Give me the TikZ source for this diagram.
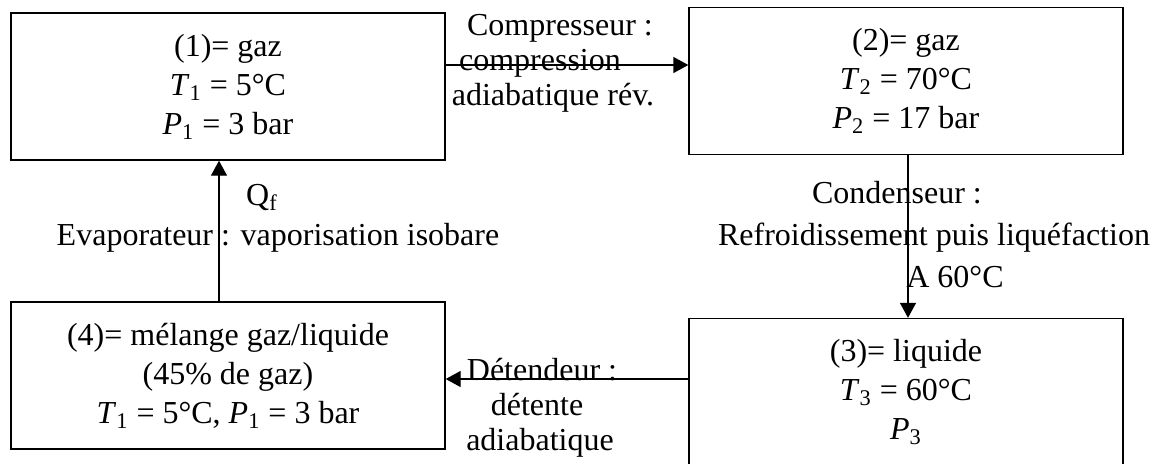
\documentclass[tikz,border=0pt]{standalone}
\usepackage{fontspec}
\setmainfont{Liberation Serif}
\usetikzlibrary{arrows.meta}

\tikzstyle{box} = [draw,line width=0.7pt,rectangle,minimum width=217pt,minimum height=73.5pt,align=center,inner sep=0pt,font=\fontsize{16}{19.5}\selectfont]
\tikzstyle{legend} = [anchor=base,inner sep=0pt,font=\fontsize{16}{19}\selectfont]
\tikzstyle{arrowdecorate} = [-{Triangle[length=7.5pt,width=8pt]},line width=0.7pt]

\newcommand{\ind}[2]{\textit{#1}\textsubscript{#2}}

\begin{document}
\begin{tikzpicture}[x=0.5pt,y=-0.5pt]
    \useasboundingbox (0,0) rectangle (1158,463);

    % states of the fluid
    \foreach \nodename/\x/\y/\content in {
      e1/228/86.5/{(1)= gaz\\\ind{T}{1} = 5°C\\\ind{P}{1} = 3 bar},
      e2/906/81/{(2)= gaz\\\ind{T}{2} = 70°C\\\ind{P}{2} = 17 bar},
      e3/906/392/{(3)= liquide\\\ind{T}{3} = 60°C\\\ind{P}{3}},
      e4/228/375.5/{(4)= mélange gaz/liquide\\(45\% de gaz)\\\ind{T}{1} = 5°C, \ind{P}{1} = 3 bar}}
    {
      \node[box] (\nodename) at (\x,\y) {\content};
    }

    %edges or lines
    \draw[arrowdecorate] (e1.east |- 0,65) -- (e2.west |- 0,65);
    \draw[arrowdecorate] (e2.south -| 908,0) -- (e3.north -| 908,0);
    \draw[arrowdecorate] (e3.west |- 0,379) -- (e4.east |- 0,379);
    \draw[arrowdecorate] (e4.north -| 219,0) -- (e1.south -| 219,0);

    % transformations
    \foreach \labelname/\x/\y/\txt in {
      cp1/560/35/{Compresseur :}, cp2/540/70/{compression}, cp3/553/105/{adiabatique rév.},
      cd1/897/203/{Condenseur :}, cd2/934/245/{Refroidissement puis liquéfaction}, cd3/955/287/{A 60°C},
      ev1/262/205/{Q\textsubscript{f}}, ev2/278/245/{Evaporateur : vaporisation isobare},
      dt1/542/380/{Détendeur :}, dt2/537/415/{détente}, dt3/540/450/{adiabatique}}
    {
      \node[legend] (\labelname) at (\x,\y) {\txt};
    }
\end{tikzpicture}
\end{document}
